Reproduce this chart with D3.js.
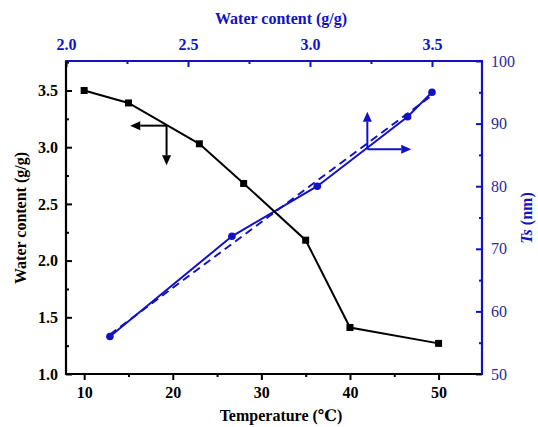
<!DOCTYPE html>
<html>
<head>
<meta charset="utf-8">
<script src="https://cdn.jsdelivr.net/npm/d3@7"></script>
<style>
  body { margin: 0; background: #fff; }
  svg { display: block; }
  svg text { font-family: "Liberation Serif", "Times New Roman", Times, "DejaVu Serif", serif !important; }
</style>
</head>
<body>
<svg width="538" height="427"></svg>
<script>
// temperature vs water content (black, bottom/left axes)
var temps = [10, 15, 23, 28, 35, 40, 50];
var water = [3.50, 3.39, 3.03, 2.68, 2.18, 1.41, 1.27];

// water content vs Ts (blue, top/right axes)
var wc = [2.18, 2.68, 3.03, 3.40, 3.50];
var ts = [56, 72, 80, 91.1, 95];
var fitWc = [2.18, 3.50];   // dashed fit line ends
var fitTs = [56.3, 94.5];

var tempTicks = [10, 20, 30, 40, 50];
var waterTicks = [1.0, 1.5, 2.0, 2.5, 3.0, 3.5];
var wcTicks = [2.0, 2.5, 3.0, 3.5];
var tsTicks = [50, 60, 70, 80, 90, 100];

var blue = "#1212c4", black = "#000";
var L = 66, R = 482, T = 61, B = 374;

var svg = d3.select("svg");
var x = d3.scaleLinear().domain([7.95, 54.9]).range([L, R]);
var y = d3.scaleLinear().domain([1.0, 3.76]).range([B, T]);
var x2 = d3.scaleLinear().domain([2.0, 3.705]).range([L, R]);
var y2 = d3.scaleLinear().domain([50, 100]).range([B, T]);

function minors(ticks){ // midpoints between major ticks, plus one past each end
  var st = ticks[1]-ticks[0], out = [];
  for (var k=-1; k<ticks.length; k++) out.push(ticks[0] + st*(k+0.5));
  return out;
}

// ---- axes ----
function axis(gen, tr, ticks, fmt, col, bold, fs, inner){
  var g = svg.append("g").attr("transform", tr);
  g.call(gen.tickValues(minors(ticks).filter(function(v){
      var d = gen.scale().domain(); return v>=d[0] && v<=d[1];}))
      .tickSize(inner ? -3 : 3).tickFormat(""));
  g.select(".domain").remove();
  var g2 = svg.append("g").attr("transform", tr);
  g2.call(gen.tickValues(ticks).tickSize(inner ? -6 : 6).tickPadding(inner ? 14 : 4).tickFormat(fmt));
  g2.select(".domain").remove();
  [g, g2].forEach(function(gg){
    gg.selectAll("line").attr("stroke", col).attr("stroke-width", 2);
  });
  g2.attr("font-family", null);
  g2.selectAll("text").attr("fill", col).attr("font-size", fs)
    .attr("font-weight", bold ? "bold" : "normal");
  return g2;
}
axis(d3.axisBottom(x), "translate(0,"+B+")", tempTicks, d3.format("d"), black, true, 16, false)
  .selectAll("text").attr("dy", "0.9em");
axis(d3.axisLeft(y), "translate("+L+",0)", waterTicks, d3.format(".1f"), black, true, 16, true)
  .selectAll("text").attr("x", -8);
axis(d3.axisTop(x2), "translate(0,"+T+")", wcTicks, d3.format(".1f"), blue, true, 16, true)
  .selectAll("text").attr("y", -11);
axis(d3.axisRight(y2), "translate("+R+",0)", tsTicks, d3.format("d"), blue, false, 16, true)
  .selectAll("text").attr("x", 9).attr("fill", "#2a2a9a");

// frame lines
svg.append("line").attr("x1", L).attr("x2", L).attr("y1", T).attr("y2", B+1).attr("stroke", black).attr("stroke-width", 2.2);
svg.append("line").attr("x1", L-1).attr("x2", R).attr("y1", B).attr("y2", B).attr("stroke", black).attr("stroke-width", 2.2);
svg.append("line").attr("x1", L-1).attr("x2", R+1).attr("y1", T).attr("y2", T).attr("stroke", blue).attr("stroke-width", 2.2);
svg.append("line").attr("x1", R).attr("x2", R).attr("y1", T).attr("y2", B+1).attr("stroke", blue).attr("stroke-width", 2.2);

// ---- titles ----
svg.append("text").attr("x", 281).attr("y", 24).attr("text-anchor", "middle")
  .attr("font-size", 16).attr("font-weight", "bold").attr("fill", blue).text("Water content (g/g)");
svg.append("text").attr("x", 281).attr("y", 421).attr("text-anchor", "middle")
  .attr("font-size", 16).attr("font-weight", "bold").attr("fill", black).text("Temperature (℃)");
svg.append("text").attr("transform", "translate(26,218) rotate(-90)").attr("text-anchor", "middle")
  .attr("font-size", 16).attr("font-weight", "bold").attr("fill", black).text("Water content (g/g)");
var rt = svg.append("text").attr("transform", "translate(532,218) rotate(-90)").attr("text-anchor", "middle")
  .attr("font-size", 16).attr("font-weight", "bold").attr("fill", blue);
rt.append("tspan").attr("font-style", "italic").text("Ts");
rt.append("tspan").text(" (nm)");

// ---- data ----
var blk = temps.map(function(t, k){ return [t, water[k]]; });
var blu = wc.map(function(w, k){ return [w, ts[k]]; });
var fit = fitWc.map(function(w, k){ return [w, fitTs[k]]; });

svg.append("path").datum(fit)
  .attr("d", d3.line().x(function(d){return x2(d[0]);}).y(function(d){return y2(d[1]);}))
  .attr("fill", "none").attr("stroke", blue).attr("stroke-width", 2).attr("stroke-dasharray", "8,5");
svg.append("path").datum(blu)
  .attr("d", d3.line().x(function(d){return x2(d[0]);}).y(function(d){return y2(d[1]);}))
  .attr("fill", "none").attr("stroke", blue).attr("stroke-width", 2);
svg.selectAll("circle.b").data(blu).enter().append("circle")
  .attr("cx", function(d){return x2(d[0]);}).attr("cy", function(d){return y2(d[1]);})
  .attr("r", 3.8).attr("fill", blue);

svg.append("path").datum(blk)
  .attr("d", d3.line().x(function(d){return x(d[0]);}).y(function(d){return y(d[1]);}))
  .attr("fill", "none").attr("stroke", black).attr("stroke-width", 2);
svg.selectAll("rect.k").data(blk).enter().append("rect")
  .attr("x", function(d){return x(d[0])-3.5;}).attr("y", function(d){return y(d[1])-3.5;})
  .attr("width", 7).attr("height", 7).attr("fill", black);

// ---- arrows ----
function arrow(x1, y1, x3, y3, col){
  var a = Math.atan2(y3-y1, x3-x1), len = 10, w = 4.5;
  var bx = x3 - len*Math.cos(a), by = y3 - len*Math.sin(a);
  svg.append("line").attr("x1", x1).attr("y1", y1).attr("x2", bx).attr("y2", by)
    .attr("stroke", col).attr("stroke-width", 2);
  svg.append("path").attr("fill", col).attr("d",
    "M"+x3+","+y3+"L"+(bx - w*Math.sin(a))+","+(by + w*Math.cos(a))+
    "L"+(bx + w*Math.sin(a))+","+(by - w*Math.cos(a))+"Z");
}
// black: points left and down (to left/bottom axes)
arrow(x(19.3), y(3.19), x(15.2), y(3.19), black);
arrow(x(19.3), y(3.19), x(19.3), y(2.84), black);
// blue: points up and right (to right/top axes)
arrow(x2(3.235), y2(85.9), x2(3.235), y2(91.9), blue);
arrow(x2(3.235), y2(85.9), x2(3.415), y2(85.9), blue);
</script>
</body>
</html>
